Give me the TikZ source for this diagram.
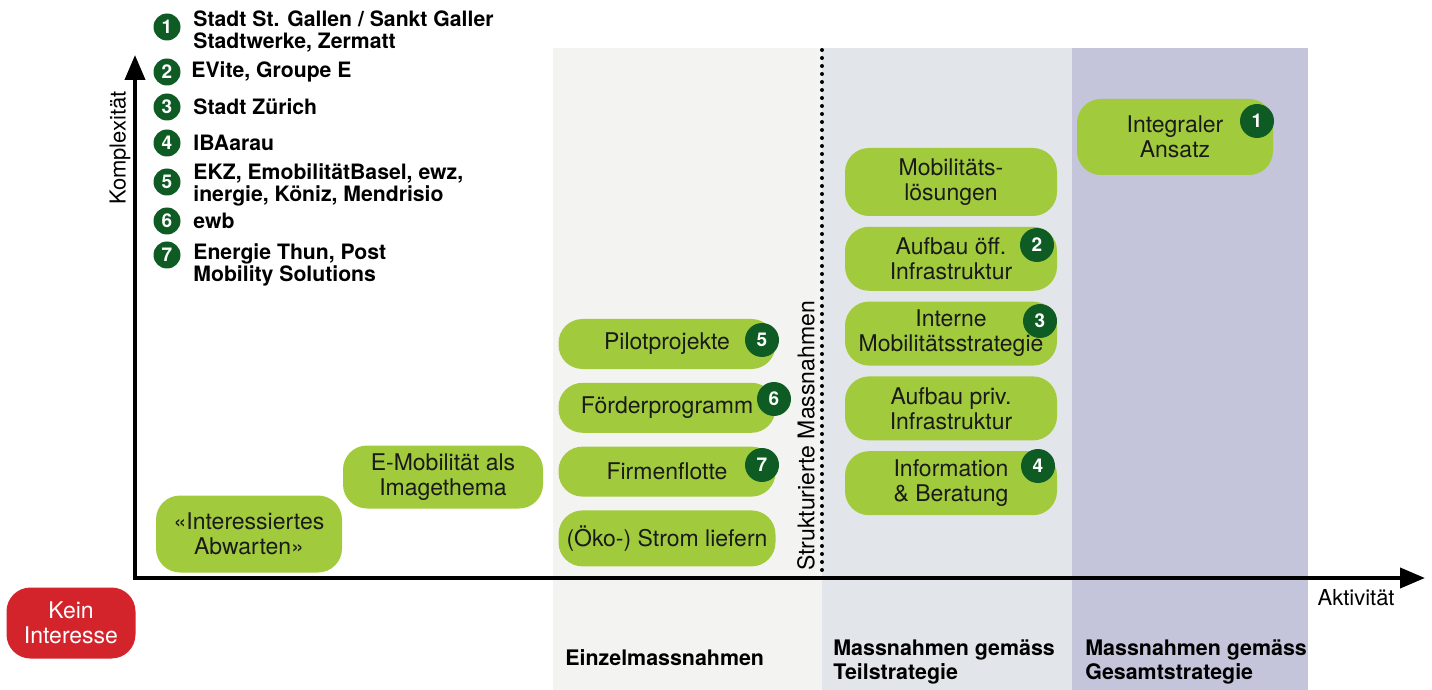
\documentclass[tikz,border=0pt]{standalone}
\usepackage{fontspec}
\setmainfont{TeX Gyre Heros}
\usetikzlibrary{arrows.meta,positioning}
\definecolor{boxgreen}{HTML}{A1CB3C}
\definecolor{darkgreen}{HTML}{0E5C24}
\definecolor{bandone}{HTML}{F3F4F1}
\definecolor{bandtwo}{HTML}{E2E6EA}
\definecolor{bandthree}{HTML}{C4C4DA}
\definecolor{keinred}{HTML}{D3232B}
\definecolor{boxtext}{HTML}{1A1A1A}

\begin{document}
\begin{tikzpicture}[
  x=0.5pt, y=-0.5pt,
  node distance=5pt,
  massn/.style={
    rectangle,
    rounded corners=12pt,
    fill=boxgreen,
    text=boxtext,
    align=center,
    inner sep=1pt,
    font=\fontsize{11.5}{12.5}\selectfont
  },
  rcol/.style={massn, minimum width=106pt, minimum height=32pt},
  lcol/.style={massn, minimum width=108.5pt, minimum height=25pt},
  badge/.style={
    circle,
    fill=darkgreen,
    text=white,
    inner sep=0pt,
    minimum size=17pt,
    font=\fontsize{9.5}{10}\selectfont\bfseries
  },
  legnum/.style={badge, minimum size=13.5pt},
  legtext/.style={
    anchor=west,
    align=left,
    inner sep=0pt,
    font=\fontsize{10.6}{11}\selectfont\bfseries
  },
  stagetitle/.style={
    anchor=west,
    align=left,
    inner sep=0pt,
    font=\fontsize{10.7}{12}\selectfont\bfseries
  },
  axislabel/.style={inner sep=0pt, font=\fontsize{11}{12}\selectfont}
]

\useasboundingbox (0,0) rectangle (1432,690);

% background bands
\fill[bandone] (553,48) rectangle (822,690);
\fill[bandtwo] (822,48) rectangle (1072,690);
\fill[bandthree] (1072,48) rectangle (1308,690);

% dotted separator
\draw[line width=2pt, line cap=round, dash pattern=on 0pt off 4pt] (822,50) -- (822,578);

% axes
\coordinate (origin) at (135,578);
\coordinate (ytip) at (135,55);
\coordinate (xtip) at (1425,578);
\draw[line width=2pt, line join=miter,
  {Triangle[length=12.5pt,width=10pt]}-{Triangle[length=12.5pt,width=10pt]}]
  (ytip) -- (origin) -- (xtip);

\node[axislabel, rotate=90] (komplex) at (120,148) {Komplexität};
\node[axislabel, anchor=east] (aktiv) at (1395,598) {Aktivität};
\node[axislabel, rotate=90, font=\fontsize{11.5}{12}\selectfont] (strukt) at (806,436) {Strukturierte Massnahmen};

% legend
\node[legnum] (l1) at (167,27) {1};
\node[legnum] (l2) at (167,72) {2};
\node[legnum] (l3) at (167,107) {3};
\node[legnum] (l4) at (167,143) {4};
\node[legnum] (l5) at (167,182) {5};
\node[legnum] (l6) at (167,221) {6};
\node[legnum] (l7) at (167,255) {7};
\node[legtext] (lt1) at (193,31.5) {Stadt St. Gallen / Sankt Galler\\Stadtwerke, Zermatt};
\node[legtext] (lt2) at (191,72) {EVite, Groupe E};
\node[legtext] (lt3) at (193,107) {Stadt Zürich};
\node[legtext] (lt4) at (193,143) {IBAarau};
\node[legtext] (lt5) at (193,184.5) {EKZ, EmobilitätBasel, ewz,\\inergie, Köniz, Mendrisio};
\node[legtext] (lt6) at (193,221) {ewb};
\node[legtext] (lt7) at (193,265) {Energie Thun, Post\\Mobility Solutions};

% stages without strategy
\node[massn, fill=keinred, text=white, minimum width=64.5pt, minimum height=35.5pt] (kein) at (71,623) {Kein\\Interesse};
\node[massn, minimum width=93pt, minimum height=38.5pt] (abwarten) at (249,534) {«Interessiertes\\Abwarten»};
\node[massn, minimum width=100pt, minimum height=31.5pt] (image) at (443,477) {E-Mobilität als\\Imagethema};

% single measures
\node[lcol] (pilot) at (667,344) {Pilotprojekte};
\node[lcol, below=6.5pt of pilot] (foerder) {Förderprogramm};
\node[lcol, below=6.5pt of foerder] (flotte) {Firmenflotte};
\node[lcol, minimum height=28pt, below=6.5pt of flotte] (strom) {(Öko-) Strom liefern};

% partial strategy
\node[rcol, minimum height=34pt] (mobil) at (951,182) {Mobilitäts-\\lösungen};
\node[rcol, below=of mobil] (oeff) {Aufbau öff.\\Infrastruktur};
\node[rcol, below=of oeff] (intern) {Interne\\Mobilitätsstrategie};
\node[rcol, below=of intern] (priv) {Aufbau priv.\\Infrastruktur};
\node[rcol, below=of priv] (info) {Information\\\& Beratung};

% overall strategy
\node[massn, minimum width=98pt, minimum height=38pt] (integral) at (1175,137) {Integraler\\Ansatz};

% badges
\node[badge] (b1) at (1257,121) {1};
\node[badge] (b2) at (1037,245) {2};
\node[badge] (b3) at (1040,321) {3};
\node[badge] (b4) at (1038,466) {4};
\node[badge] (b5) at (762,340) {5};
\node[badge] (b6) at (774,399) {6};
\node[badge] (b7) at (762,465) {7};

% stage titles
\node[stagetitle] (einzel) at (565,658) {Einzelmassnahmen};
\node[stagetitle] (teil) at (833,662) {Massnahmen gemäss\\Teilstrategie};
\node[stagetitle] (gesamt) at (1085,662) {Massnahmen gemäss\\Gesamtstrategie};

\end{tikzpicture}
\end{document}
